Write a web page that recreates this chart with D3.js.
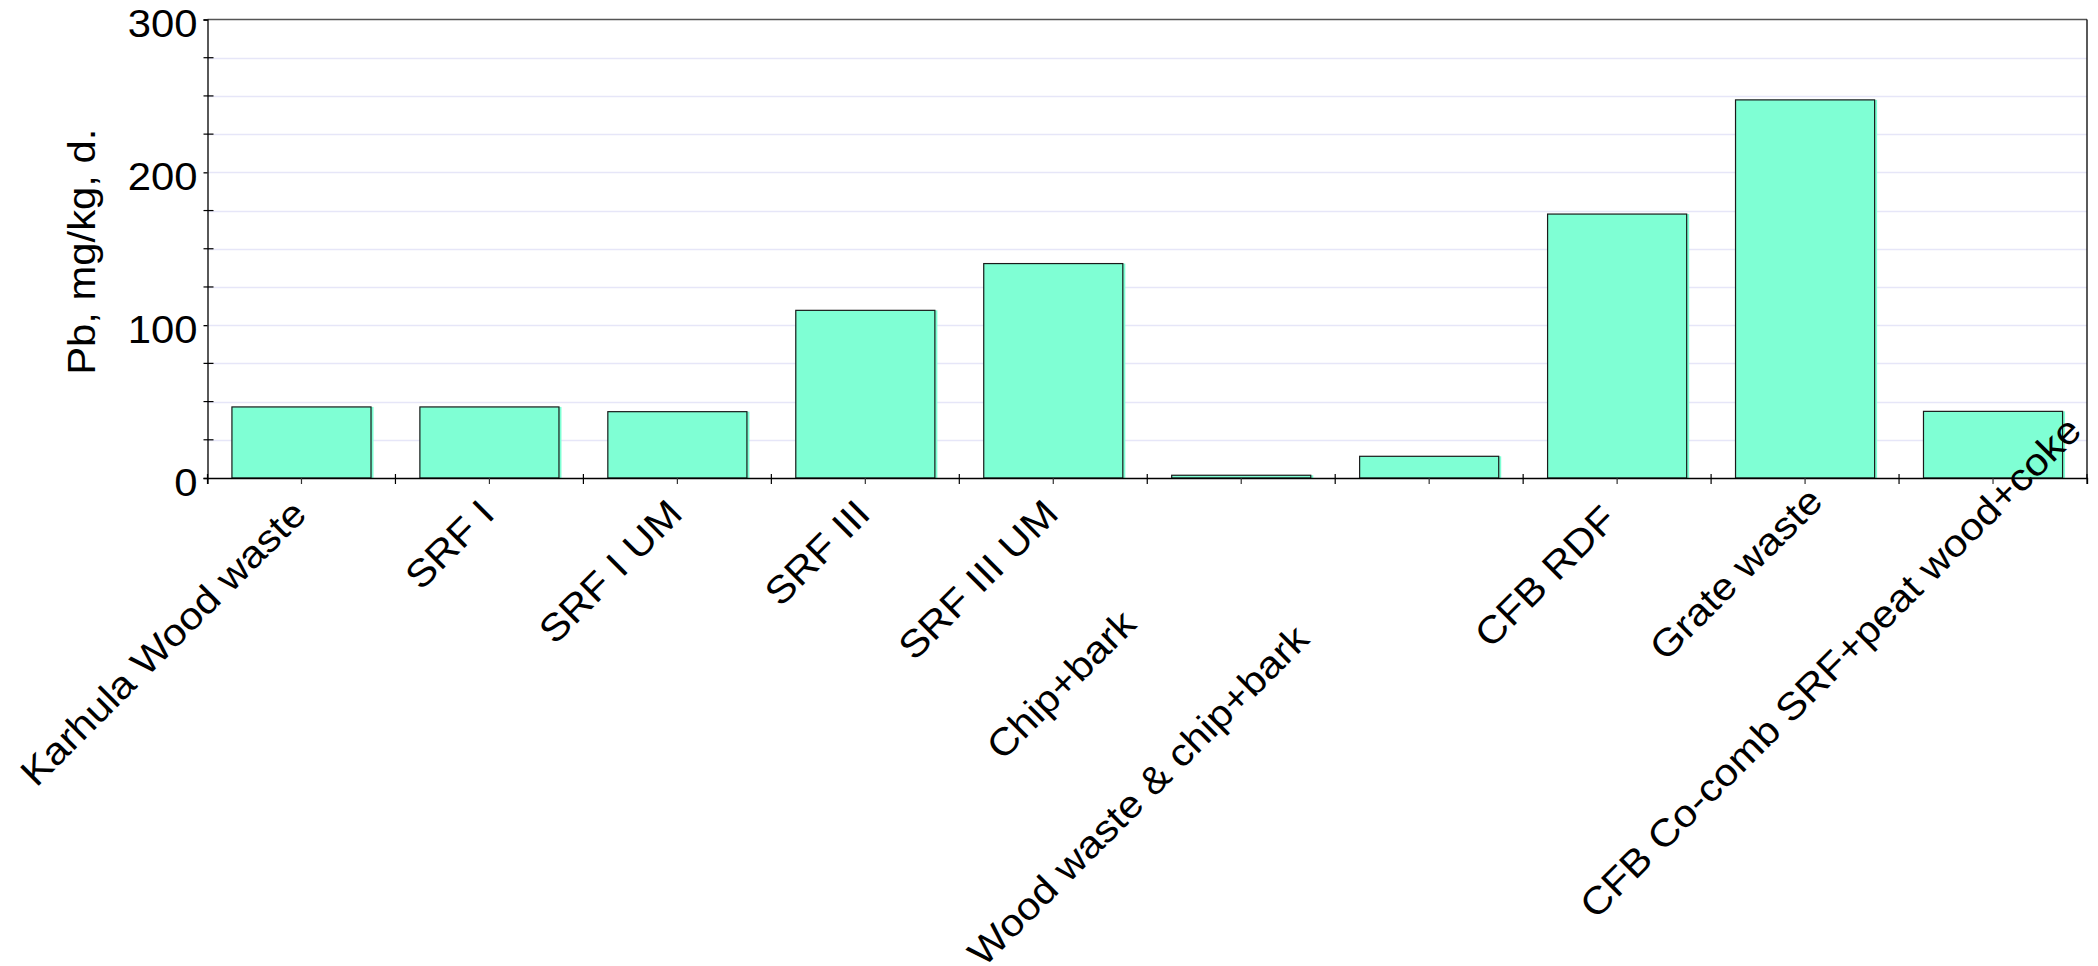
<!DOCTYPE html>
<html>
<head>
<meta charset="utf-8">
<script src="https://cdn.jsdelivr.net/npm/d3@7"></script>
<style>
  html, body { margin: 0; padding: 0; background: #ffffff; }
  svg { display: block; }
  text { font-family: "Liberation Sans", Arial, sans-serif; fill: #000; }
</style>
</head>
<body>
<svg id="chart" width="2098" height="966"></svg>
<script>
// Lead content of fuels, mg/kg dry
const categories = [
  "Karhula Wood waste",
  "SRF I",
  "SRF I UM",
  "SRF III",
  "SRF III UM",
  "Chip+bark",
  "Wood waste & chip+bark",
  "CFB RDF",
  "Grate waste",
  "CFB Co-comb SRF+peat wood+coke"
];
const values = [46.5, 46.5, 43.4, 109.7, 140.3, 1.8, 14.2, 172.7, 247.4, 43.6];
const yTickValues = [0, 100, 200, 300];
const yGridStep = 25;
const yTitle = "Pb, mg/kg, d.";

// Slide of each category label along its own slanted direction (px) so long names don't collide
const labelSlide = [0, 0, 0, 0, 0, -156, -177, -8, 18, 118];

const width = 2098, height = 966;
const plot = { left: 207.5, right: 2087, top: 19.5, bottom: 478 };
const fontSize = 38;
const widen = 1.1;           // glyphs are set slightly wide
const barColor = "#7fffd4";
const gridColor = "#e6e6f8";

const svg = d3.select("#chart");

const x = d3.scaleBand()
  .domain(categories)
  .range([plot.left, plot.right])
  .paddingInner(0.26)
  .paddingOuter(0.13);

const y = d3.scaleLinear()
  .domain([0, 300])
  .range([plot.bottom, plot.top]);

// Horizontal grid every 25 units
const gridValues = d3.range(yGridStep, 300, yGridStep);
svg.append("g")
  .selectAll("line")
  .data(gridValues)
  .join("line")
  .attr("x1", plot.left)
  .attr("x2", plot.right)
  .attr("y1", d => Math.round(y(d)) + 0.5)
  .attr("y2", d => Math.round(y(d)) + 0.5)
  .attr("stroke", gridColor)
  .attr("stroke-width", 1.5);

// Bars: a soft fill strip on the right, then the outlined bar
const bars = svg.append("g");
bars.selectAll("rect.under")
  .data(values)
  .join("rect")
  .attr("class", "under")
  .attr("x", (d, i) => x(categories[i]))
  .attr("y", d => y(d))
  .attr("width", x.bandwidth() + 2.5)
  .attr("height", d => y(0) - y(d))
  .attr("fill", barColor);
bars.selectAll("rect.bar")
  .data(values)
  .join("rect")
  .attr("class", "bar")
  .attr("x", (d, i) => x(categories[i]))
  .attr("y", d => y(d))
  .attr("width", x.bandwidth())
  .attr("height", d => y(0) - y(d))
  .attr("fill", barColor)
  .attr("stroke", "#1a1a1a")
  .attr("stroke-width", 1.2);

// Plot frame: top and right edges
svg.append("line")
  .attr("x1", plot.left).attr("x2", plot.right)
  .attr("y1", plot.top).attr("y2", plot.top)
  .attr("stroke", "#555").attr("stroke-width", 1.3);
svg.append("line")
  .attr("x1", plot.right).attr("x2", plot.right)
  .attr("y1", plot.top).attr("y2", plot.bottom)
  .attr("stroke", "#000").attr("stroke-width", 1.3);

// Y axis with major labels
const yAxis = svg.append("g")
  .attr("transform", `translate(${plot.left},0)`)
  .call(d3.axisLeft(y).tickValues(yTickValues).tickSize(4).tickPadding(7));
yAxis.select(".domain").attr("stroke", "#000").attr("stroke-width", 1.3);
yAxis.selectAll(".tick line").attr("stroke", "#000").attr("stroke-width", 1.3);
yAxis.selectAll(".tick text")
  .attr("font-size", fontSize)
  .attr("font-family", "Liberation Sans, Arial, sans-serif")
  .attr("x", null)
  .attr("dy", "0.45em")
  .attr("transform", `translate(-10,0) scale(${widen},1)`);

// Y minor ticks crossing the axis
svg.append("g")
  .selectAll("line")
  .data(gridValues.filter(v => !yTickValues.includes(v)))
  .join("line")
  .attr("x1", plot.left - 4)
  .attr("x2", plot.left + 6)
  .attr("y1", d => y(d))
  .attr("y2", d => y(d))
  .attr("stroke", "#000")
  .attr("stroke-width", 1.2);

// X axis: centre ticks below the axis
const xAxis = svg.append("g")
  .attr("transform", `translate(0,${plot.bottom})`)
  .call(d3.axisBottom(x).tickSize(6).tickFormat(""));
xAxis.select(".domain").attr("stroke", "#000").attr("stroke-width", 1.3);
xAxis.selectAll(".tick line").attr("stroke", "#333").attr("stroke-width", 1.2);

// Category boundary ticks crossing the axis
const boundary = d3.scaleLinear().domain([0, categories.length]).range([plot.left, plot.right]);
svg.append("g")
  .selectAll("line")
  .data(d3.range(0, categories.length + 1))
  .join("line")
  .attr("x1", d => boundary(d))
  .attr("x2", d => boundary(d))
  .attr("y1", plot.bottom - 4)
  .attr("y2", plot.bottom + 6)
  .attr("stroke", "#000")
  .attr("stroke-width", 1.2);

// Slanted category labels, end-anchored just below each bar centre
const dir = [Math.SQRT1_2, -Math.SQRT1_2];
svg.append("g")
  .selectAll("text")
  .data(categories)
  .join("text")
  .attr("transform", (d, i) => {
    const cx = x(d) + x.bandwidth() / 2 + 7 + labelSlide[i] * dir[0];
    const cy = plot.bottom + 38 + labelSlide[i] * dir[1];
    return `translate(${cx},${cy}) rotate(-45) scale(${widen},1)`;
  })
  .attr("text-anchor", "end")
  .attr("font-size", fontSize)
  .text(d => d);

// Y axis title
svg.append("text")
  .attr("transform", `translate(95,${(plot.top + plot.bottom) / 2 + 3}) rotate(-90) scale(${widen},1)`)
  .attr("text-anchor", "middle")
  .attr("font-size", fontSize)
  .text(yTitle);
</script>
</body>
</html>
